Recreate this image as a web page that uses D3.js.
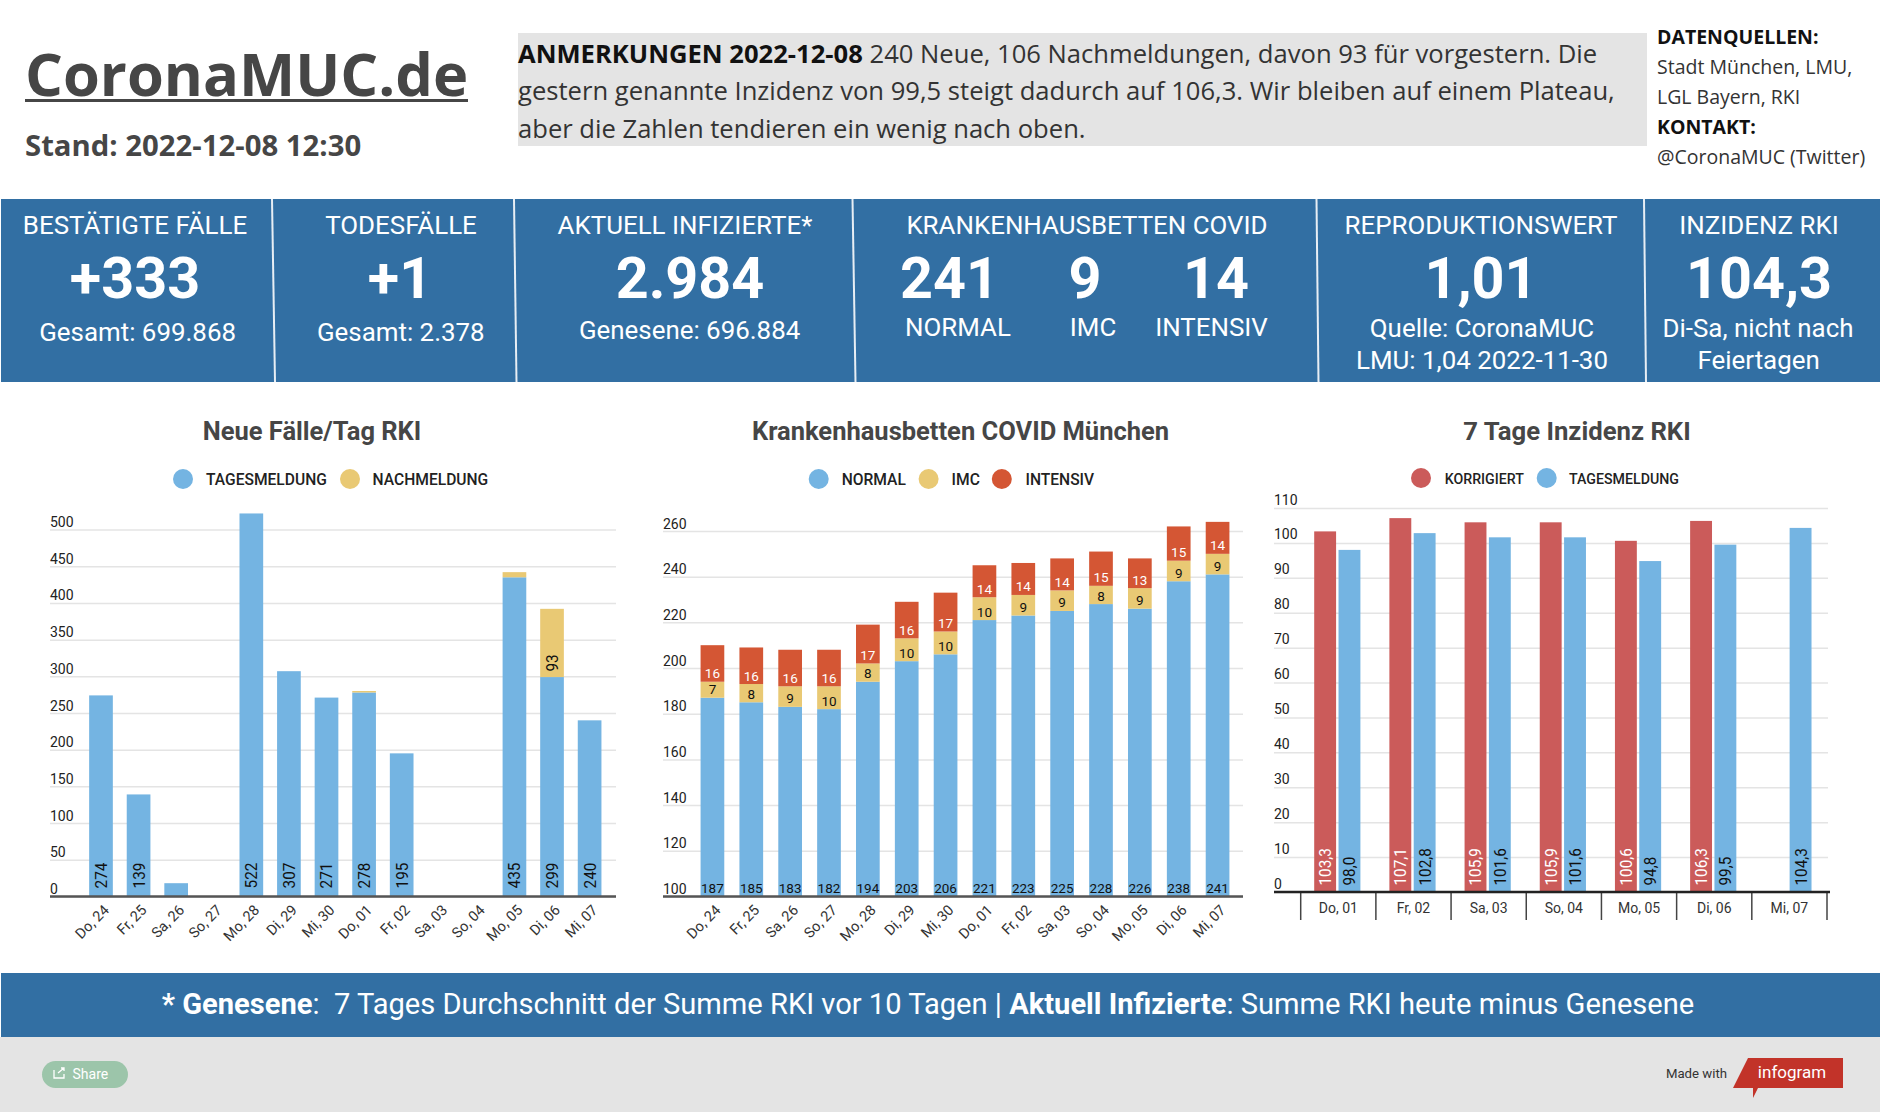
<!DOCTYPE html>
<html>
<head>
<meta charset="utf-8">
<script src="https://cdn.jsdelivr.net/npm/d3@7"></script>
<style>
  body { margin: 0; background: #fff; }
  text { font-family: Roboto, sans-serif; }
</style>
</head>
<body>
<div id="chart"></div>
<script>
const casesDays = ["Do, 24","Fr, 25","Sa, 26","So, 27","Mo, 28","Di, 29","Mi, 30","Do, 01","Fr, 02","Sa, 03","So, 04","Mo, 05","Di, 06","Mi, 07"];
const casesDaily = [274,139,18,0,522,307,271,278,195,0,0,435,299,240];
const casesLate = [0,0,0,0,0,0,0,2,0,0,0,7,93,0];
const casesTicks = [0,50,100,150,200,250,300,350,400,450,500];

const bedsNormal = [187,185,183,182,194,203,206,221,223,225,228,226,238,241];
const bedsImc = [7,8,9,10,8,10,10,10,9,9,8,9,9,9];
const bedsIcu = [16,16,16,16,17,16,17,14,14,14,15,13,15,14];
const bedsTicks = [100,120,140,160,180,200,220,240,260];

const incDays = ["Do, 01","Fr, 02","Sa, 03","So, 04","Mo, 05","Di, 06","Mi, 07"];
const incCorrected = [103.3,107.1,105.9,105.9,100.6,106.3,null];
const incDaily = [98.0,102.8,101.6,101.6,94.8,99.5,104.3];
const incTicks = [0,10,20,30,40,50,60,70,80,90,100,110];

const noteLines = ["240 Neue, 106 Nachmeldungen, davon 93 für vorgestern. Die",
  "gestern genannte Inzidenz von 99,5 steigt dadurch auf 106,3. Wir bleiben auf einem Plateau,",
  "aber die Zahlen tendieren ein wenig nach oben."];
const sourceLines = ["DATENQUELLEN:","Stadt München, LMU,","LGL Bayern, RKI","KONTAKT:","@CoronaMUC (Twitter)"];

const BLUE = "#74b4e2", YELLOW = "#e9c974", ORANGE = "#d45634", RED = "#cb5b5a";
const BAND = "#326fa3", INK = "#464646";
const OS = '"Open Sans", sans-serif';

const svg = d3.select("#chart").append("svg").attr("width", 1880).attr("height", 1112).style("display", "block");

function label(g, x, y, str, size, opts = {}) {
  return g.append("text").attr("x", x).attr("y", y)
    .attr("text-anchor", opts.anchor || "start")
    .attr("font-size", size)
    .attr("font-weight", opts.weight || 400)
    .attr("fill", opts.fill || "#fff")
    .style("font-family", opts.family || "Roboto, sans-serif")
    .text(str);
}

// header
label(svg, 25, 96, "CoronaMUC.de", 59.6, { weight: 700, fill: INK, family: OS });
svg.append("rect").attr("x", 25).attr("y", 99).attr("width", 443).attr("height", 3).attr("fill", INK);
label(svg, 25, 156, "Stand: 2022-12-08 12:30", 29.3, { weight: 700, fill: INK, family: OS });

svg.append("rect").attr("x", 518).attr("y", 33).attr("width", 1129).attr("height", 113).attr("fill", "#e4e4e4");
const noteY = [63, 100, 138];
const first = label(svg, 518, noteY[0], "ANMERKUNGEN 2022-12-08", 25.6, { weight: 700, fill: "#111", family: OS });
first.append("tspan").attr("font-weight", 400).attr("fill", "#333").text(" " + noteLines[0]);
noteLines.slice(1).forEach((l, i) => label(svg, 518, noteY[i + 1], l, 25.6, { fill: "#333", family: OS }));

sourceLines.forEach((l, i) => {
  const bold = i === 0 || i === 3;
  label(svg, 1657, 44 + i * 30, l, 19.5, { weight: bold ? 700 : 400, fill: bold ? "#111" : "#333", family: OS });
});

// kpi band
svg.append("rect").attr("x", 1).attr("y", 199).attr("width", 1879).attr("height", 183).attr("fill", BAND);
[[272,275],[514,516.5],[852.5,855.5],[1316.5,1318.5],[1644,1646]].forEach(([a, b]) => {
  svg.append("line").attr("x1", a).attr("x2", b).attr("y1", 199).attr("y2", 382).attr("stroke", "#e8eef4").attr("stroke-width", 2);
});

const kpi = svg.append("g");
const head = (x, s) => label(kpi, x, 234, s, 25.9, { anchor: "middle" });
const big = (x, s) => label(kpi, x, 297.5, s, 57.5, { anchor: "middle", weight: 700 });
const sub = (x, y, s) => label(kpi, x, y, s, 25.9, { anchor: "middle" });

head(135, "BESTÄTIGTE FÄLLE"); big(135, "+333"); sub(137.6, 341, "Gesamt: 699.868");
head(401, "TODESFÄLLE"); big(400, "+1"); sub(400.8, 341, "Gesamt: 2.378");
head(685, "AKTUELL INFIZIERTE*"); big(690, "2.984"); sub(689.6, 339, "Genesene: 696.884");
head(1087, "KRANKENHAUSBETTEN COVID");
big(949.5, "241"); big(1085, "9"); big(1216, "14");
sub(958, 336, "NORMAL"); sub(1093, 336, "IMC"); sub(1211.5, 336, "INTENSIV");
head(1481, "REPRODUKTIONSWERT"); big(1481, "1,01"); sub(1482, 337, "Quelle: CoronaMUC"); sub(1482, 369, "LMU: 1,04 2022-11-30");
head(1759, "INZIDENZ RKI"); big(1759, "104,3"); sub(1758, 337, "Di-Sa, nicht nach"); sub(1758.6, 369, "Feiertagen");

// shared chart parts
function gridAxis(y, ticks, x0, x1, lift) {
  const g = svg.append("g").attr("transform", `translate(${x0},0)`)
    .call(d3.axisLeft(y).tickValues(ticks).tickSize(-(x1 - x0)).tickSizeOuter(0));
  g.select(".domain").remove();
  g.selectAll(".tick line").attr("stroke", "#e4e4e4").attr("stroke-width", 1.5);
  g.selectAll(".tick text").attr("x", 0).attr("dy", -lift).attr("text-anchor", "start")
    .attr("font-size", 14).attr("font-family", "Roboto, sans-serif").attr("fill", "#222");
}

function legend(y, items) {
  items.forEach(d => {
    svg.append("circle").attr("cx", d.cx).attr("cy", y).attr("r", 10).attr("fill", d.color);
    label(svg, d.tx, y + 6, d.name, d.size, { fill: "#222", weight: 500 });
  });
}

function slantedDays(x, yPos) {
  const g = svg.append("g").attr("transform", `translate(0,${yPos})`)
    .call(d3.axisBottom(x).tickSize(0));
  g.select(".domain").remove();
  g.selectAll(".tick text").attr("text-anchor", "end").attr("dy", 0).attr("y", 0)
    .attr("transform", "translate(9,15) rotate(-45)")
    .attr("font-size", 14.5).attr("font-family", "Roboto, sans-serif").attr("fill", "#333");
}

function baseline(x0, x1, y, color) {
  svg.append("line").attr("x1", x0).attr("x2", x1).attr("y1", y).attr("y2", y)
    .attr("stroke", color).attr("stroke-width", 2.5);
}

// the bar labels are a bit squeezed along their length in the original
function upLabel(x, y, s, fill) {
  svg.append("text").attr("transform", `translate(${x},${y}) rotate(-90) scale(0.9,1)`)
    .attr("dy", "0.35em").attr("font-size", 17).attr("fill", fill).text(s);
}

// chart 1
label(svg, 312, 440, "Neue Fälle/Tag RKI", 25.5, { anchor: "middle", weight: 700, fill: INK });
legend(479, [
  { cx: 183, tx: 206, name: "TAGESMELDUNG", color: BLUE, size: 15.6 },
  { cx: 350, tx: 372.6, name: "NACHMELDUNG", color: YELLOW, size: 15.6 }]);
const y1 = d3.scaleLinear().domain([0, 500]).range([896.4, 529.6]);
const x1 = d3.scaleBand().domain(casesDays).range([82.2, 608.4]).paddingInner(0.37).paddingOuter(0.185);
gridAxis(y1, casesTicks, 50, 616, 3);
casesDays.forEach((d, i) => {
  const top = casesDaily[i] + casesLate[i];
  if (casesDaily[i] > 0) svg.append("rect").attr("x", x1(d)).attr("width", x1.bandwidth())
    .attr("y", y1(casesDaily[i])).attr("height", y1(0) - y1(casesDaily[i])).attr("fill", BLUE);
  if (casesLate[i] > 0) svg.append("rect").attr("x", x1(d)).attr("width", x1.bandwidth())
    .attr("y", y1(top)).attr("height", y1(casesDaily[i]) - y1(top)).attr("fill", YELLOW);
  const cx = x1(d) + x1.bandwidth() / 2;
  if (casesDaily[i] > 20) upLabel(cx, y1(0) - 8, casesDaily[i], "#111");
  if (casesLate[i] > 20) upLabel(cx, y1(casesDaily[i]) - 5.5, casesLate[i], "#111");
});
baseline(50, 616, y1(0), "#555");
slantedDays(x1, 896);

// chart 2
label(svg, 960.5, 440, "Krankenhausbetten COVID München", 25.5, { anchor: "middle", weight: 700, fill: INK });
legend(479, [
  { cx: 818.7, tx: 841.7, name: "NORMAL", color: BLUE, size: 15.6 },
  { cx: 928.6, tx: 951.6, name: "IMC", color: YELLOW, size: 15.6 },
  { cx: 1001.8, tx: 1025.5, name: "INTENSIV", color: ORANGE, size: 15.6 }]);
const y2 = d3.scaleLinear().domain([100, 260]).range([896.4, 531]);
const x2 = d3.scaleBand().domain(casesDays).range([693, 1237]).paddingInner(0.39).paddingOuter(0.195);
gridAxis(y2, bedsTicks, 663, 1243, 3);
const bedSeries = [[bedsNormal, BLUE, "#111"], [bedsImc, YELLOW, "#111"], [bedsIcu, ORANGE, "#fff"]];
casesDays.forEach((d, i) => {
  let sum = 0;
  bedSeries.forEach(([vals, color, textColor], s) => {
    const lo = s === 0 ? 100 : sum, hi = sum + vals[i];
    sum = hi;
    svg.append("rect").attr("x", x2(d)).attr("width", x2.bandwidth())
      .attr("y", y2(hi)).attr("height", y2(lo) - y2(hi)).attr("fill", color);
    label(svg, x2(d) + x2.bandwidth() / 2, y2(lo) - 3.5, vals[i], 13.5, { anchor: "middle", fill: textColor });
  });
});
baseline(663, 1243, y2(100), "#555");
slantedDays(x2, 896);

// chart 3
label(svg, 1577, 440, "7 Tage Inzidenz RKI", 25.7, { anchor: "middle", weight: 700, fill: INK });
legend(478, [
  { cx: 1421, tx: 1444.7, name: "KORRIGIERT", color: RED, size: 14.2 },
  { cx: 1546.7, tx: 1569, name: "TAGESMELDUNG", color: BLUE, size: 14.2 }]);
const y3 = d3.scaleLinear().domain([0, 110]).range([892, 508]);
const x3 = d3.scaleBand().domain(incDays).range([1300.7, 1827]);
const xInner = d3.scaleBand().domain(["corrected", "daily"]).range([13.5, 59.7]).paddingInner(0.1);
const comma = v => v.toFixed(1).replace(".", ",");
gridAxis(y3, incTicks, 1274, 1828, 4);
incDays.forEach((d, i) => {
  [["corrected", incCorrected[i], RED, "#fff"], ["daily", incDaily[i], BLUE, "#111"]].forEach(([key, v, color, textColor]) => {
    if (v === null) return;
    const bx = x3(d) + xInner(key);
    svg.append("rect").attr("x", bx).attr("width", xInner.bandwidth())
      .attr("y", y3(v)).attr("height", y3(0) - y3(v)).attr("fill", color);
    upLabel(bx + xInner.bandwidth() / 2, y3(0) - 6.5, comma(v), textColor);
  });
});
const xAxis3 = svg.append("g").attr("transform", "translate(0,892)").call(d3.axisBottom(x3).tickSize(0).tickPadding(11));
xAxis3.select(".domain").remove();
xAxis3.selectAll(".tick text").attr("font-size", 14).attr("font-family", "Roboto, sans-serif").attr("fill", "#333");
incDays.concat([null]).forEach(d => {
  const tx = d === null ? x3.range()[1] : x3(d);
  svg.append("line").attr("x1", tx).attr("x2", tx).attr("y1", 892).attr("y2", 920).attr("stroke", "#444").attr("stroke-width", 1.5);
});
baseline(1274, 1830, y3(0), "#222");

// footer
svg.append("rect").attr("x", 1).attr("y", 973).attr("width", 1879).attr("height", 64).attr("fill", BAND);
const foot = label(svg, 928, 1014, "", 29.1, { anchor: "middle" });
foot.append("tspan").attr("font-weight", 700).text("* Genesene");
foot.append("tspan").text(":\u00a0 7 Tages Durchschnitt der Summe RKI vor 10 Tagen | ");
foot.append("tspan").attr("font-weight", 700).text("Aktuell Infizierte");
foot.append("tspan").text(": Summe RKI heute minus Genesene");
svg.append("rect").attr("y", 1037).attr("width", 1880).attr("height", 75).attr("fill", "#e4e4e4");

svg.append("rect").attr("x", 42).attr("y", 1061).attr("width", 86).attr("height", 27).attr("rx", 13.5).attr("fill", "#9cc5aa");
svg.append("path").attr("d", "M54 1070v8h10v-4M58 1073l6-5m-3 0h3v3").attr("fill", "none").attr("stroke", "#fff").attr("stroke-width", 1.3);
label(svg, 72.5, 1079, "Share", 14);
label(svg, 1727, 1078, "Made with", 13.2, { anchor: "end", fill: "#333" });
svg.append("path").attr("d", "M1748 1058H1843V1088H1758L1753 1098V1088H1733Z").attr("fill", "#c23329");
label(svg, 1792, 1078, "infogram", 17, { anchor: "middle", family: '"Liberation Sans Narrow", Roboto, sans-serif' });
</script>
</body>
</html>
